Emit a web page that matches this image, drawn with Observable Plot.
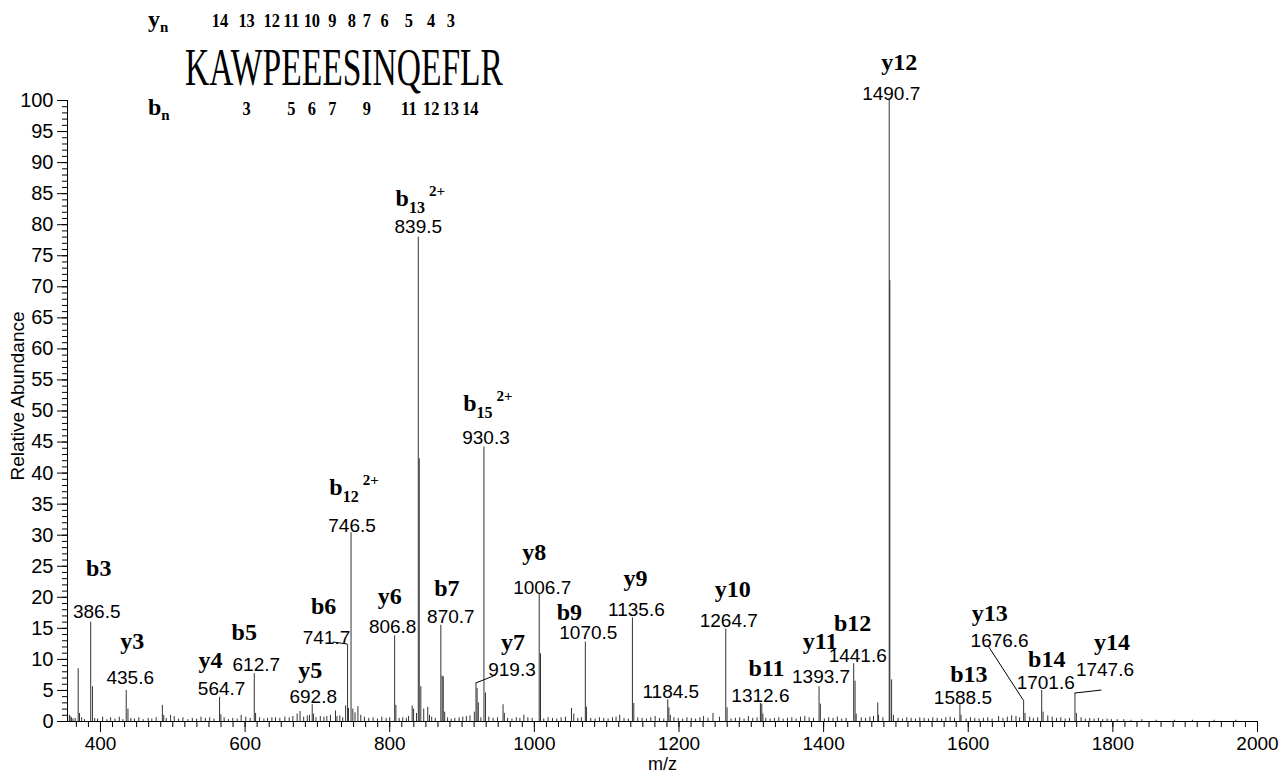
<!DOCTYPE html>
<html><head><meta charset="utf-8">
<script src="https://cdn.jsdelivr.net/npm/d3@7"></script>
<script src="https://cdn.jsdelivr.net/npm/@observablehq/plot@0.6"></script>
<style>
html,body{margin:0;padding:0;background:#fff;}
#wrap{position:relative;width:1284px;height:778px;overflow:hidden;background:#fff;}
#wrap svg{position:absolute;left:0;top:0;}
</style></head><body><div id="wrap"></div>
<script>
// ---------------- data ----------------
const peptide = "KAWPEEESINQEFLR";
const yIonNumbers = [14,13,12,11,10,9,8,7,6,5,4,3];
const bIonNumbers = [3,5,6,7,9,11,12,13,14];

const labeledMz  = [386.5,435.6,564.7,612.7,692.8,741.7,746.5,806.8,839.5,870.7,919.3,930.3,1006.7,1070.5,1135.6,1184.5,1264.7,1312.6,1393.7,1441.6,1490.7,1588.5,1676.6,1701.6,1747.6];
const labeledInt = [16.0,5.0,3.9,7.7,2.7,12.4,30.4,13.8,78.0,15.5,6.1,44.2,20.6,12.8,16.7,3.5,14.9,2.9,5.6,9.3,100,2.7,3.4,5.0,4.5];
const ionNames   = ["b3","y3","y4","b5","y5","b6","b_12^2+","y6","b_13^2+","b7","y7","b_15^2+","y8","b9","y9","","y10","b11","y11","b12","y12","b13","y13","b14","y14"];

const otherMz  = [357,360,369.2,371,388.9,438,485.6,487.5,497,566.5,594.5,614.5,637,672,676,689,694.5,713,718,725,727,739,743,749,752,756,760,808.5,831,833,837,840.8,843,847,852.6,855,872.5,874,876,917,920.8,922.5,932.4,956.7,958.5,985.5,1008.5,1051.3,1054.5,1072,1118,1137.5,1186,1188,1234,1247,1266.5,1296,1314.5,1316,1374,1395.5,1443.5,1445,1474.9,1476,1491.6,1494,1496.5,1590,1642,1678.5,1703.5,1749.5];
const otherInt = [1.0,0.6,8.5,1.3,5.6,2.0,2.6,1.0,1.0,1.1,1.0,1.3,0.6,1.2,1.6,1.0,1.2,0.8,1.0,1.7,0.8,2.5,2.1,2.0,1.4,2.4,1.0,2.6,2.5,2.0,1.3,42.3,5.6,2.0,2.3,1.0,7.3,7.2,1.5,1.5,5.3,3.0,4.6,2.7,1.3,1.0,10.9,2.1,1.2,2.3,1.0,2.9,2.2,1.0,0.8,1.3,2.2,0.8,2.8,1.2,0.8,2.8,6.5,1.2,3.0,1.0,71,6.7,1.0,1.0,0.8,1.3,1.5,1.3];

const noiseMz = [358,362,365,374,378,392,396,403,409,414,
 420,426,431,442,447,453,459,466,471,477,
 491,502,508,514,521,527,533,539,545,551,
 557,571,577,583,589,601,607,620,626,631,
 642,648,655,661,666,681,686,698,704,709,
 731,735,765,771,777,783,789,795,800,813,
 818,823,826,858,863,880,885,890,896,901,
 906,911,926,937,943,949,963,969,975,980,
 991,997,1013,1019,1025,1031,1037,1043,1060,1065,
 1078,1084,1090,1096,1102,1108,1113,1124,1130,1143,
 1149,1155,1161,1167,1173,1179,1193,1199,1205,1211,
 1217,1223,1229,1240,1256,1272,1278,1284,1290,1302,
 1308,1320,1326,1332,1338,1344,1350,1356,1362,1368,
 1380,1386,1401,1407,1413,1419,1425,1431,1452,1458,
 1464,1469,1482,1503,1509,1515,1521,1527,1533,1539,
 1545,1551,1557,1563,1569,1575,1581,1597,1603,1609,
 1615,1621,1627,1633,1648,1654,1660,1666,1671,1685,
 1690,1696,1710,1716,1722,1728,1734,1740,1756,1762,
 1768,1774,1780,1786,1792,1798,1806,1815,1825,1840,
 1860,1885,1910,1940,1970];
const noiseInt = [.8,.4,.5,.6,.3,.5,.4,.7,.3,.6,
 .4,.7,.3,.5,.4,.6,.3,.5,.4,.6,
 .5,.8,.4,.6,.3,.5,.4,.7,.5,.6,
 .4,.6,.3,.5,.4,.7,.5,.6,.4,.5,
 .6,.5,.7,.6,.8,.7,.9,.6,.8,.7,
 .9,.6,.7,.5,.6,.4,.7,.5,.6,.5,
 .6,.5,.8,.7,.5,.6,.4,.5,.6,.7,
 .8,.9,.6,.7,.5,.6,.5,.4,.6,.5,
 .6,.5,.4,.6,.5,.4,.6,.7,.5,.6,
 .5,.4,.6,.5,.4,.6,.7,.5,.4,.6,
 .5,.4,.6,.8,.5,.4,.6,.5,.4,.6,
 .5,.4,.6,.5,.7,.4,.5,.6,.4,.5,
 .6,.5,.4,.5,.6,.4,.5,.6,.4,.7,
 .6,.5,.4,.6,.5,.7,.4,.5,.6,.5,
 .7,.8,.6,.5,.4,.6,.5,.4,.6,.5,
 .4,.6,.5,.4,.6,.7,.5,.4,.6,.5,
 .4,.5,.6,.4,.5,.7,.9,.8,.6,.7,
 .5,.6,.9,.7,.5,.6,.4,.5,.6,.4,
 .5,.4,.5,.3,.4,.3,.3,.3,.2,.3,
 .2,.2,.2,.2,.2];

const xTicksMajor = [400,600,800,1000,1200,1400,1600,1800,2000];
const yTicksMajor = [0,5,10,15,20,25,30,35,40,45,50,55,60,65,70,75,80,85,90,95,100];

// ---------------- layout (pixel offsets of annotations) ----------------
// [numberDx, numberDy, ionDx, ionDy] relative to the peak top
const labelLayout = [[6,-10,8,-54],[4,-13,6,-49],[2,-8,-9,-37],[2,-9,-10,-41],[1,-8,-2,-34],
 [-21,-7,-24,-38],[1,-7,3,-45],[-2,-9,-5,-39],[0,-10,2,-39],[10,-8,6,-37],
 [36,-14,37,-41],[2,-9,4,-44],[3,-6,-5,-41],[3,-9,-16,-30],[4,-8,3,-39],
 [3,-8,0,0],[3,-8,7,-40],[0,-8,6,-35],[2,-10,1,-45],[4,-8,-1,-40],
 [2,-7,10,-38],[3,-7,9,-30],[-24,-59,-34,-87],[4,-8,5,-31],[30,-24,37,-51]];
const connectorLayout = {5:[-14,-2], 10:[20,-8], 22:[-35,-54], 24:[27,-3]};

const sans = "'Liberation Sans', Arial, Helvetica, sans-serif";
const serif = "'Liberation Serif', 'Times New Roman', serif";
const xDomain = [354.4, 2000];

const peaks = [
  ...noiseMz.map((m,i)=>({mz:m, int:noiseInt[i]})),
  ...otherMz.map((m,i)=>({mz:m, int:otherInt[i]})),
  ...labeledMz.map((m,i)=>({mz:m, int:labeledInt[i]}))
];
const minorX = d3.range(0,100).map(i => 400 + (i-3)*200/12).filter(v => v >= xDomain[0] && v <= 2000.01);
const minorY = d3.range(0,101,1);

const labelMarks = [];
labeledMz.forEach((m,i) => {
  const [ndx, ndy, idx, idy] = labelLayout[i];
  labelMarks.push(Plot.text([i], {x: j=>labeledMz[j], y: j=>labeledInt[j], text: j=>labeledMz[j].toFixed(1),
    dx: ndx, dy: ndy, fontSize: 19, fontFamily: sans, fill: "#000", lineAnchor: "middle"}));
  if (ionNames[i]) labelMarks.push(Plot.text([i], {x: j=>labeledMz[j], y: j=>labeledInt[j], text: j=>ionNames[j],
    dx: idx, dy: idy, fontSize: 24, fontFamily: serif, fontWeight: "bold", fill: "#000", lineAnchor: "middle"}));
});

const chart = Plot.plot({
  width: 1284, height: 778,
  marginTop: 100, marginBottom: 57, marginLeft: 67, marginRight: 27,
  x: {domain: xDomain},
  y: {domain: [0, 100]},
  style: {fontFamily: sans, fontSize: "20px", color: "#000", background: "#fff", overflow: "visible"},
  marks: [
    Plot.ruleX(peaks, {x: "mz", y1: 0, y2: "int", stroke: "#333", strokeWidth: 1}),
    Plot.ruleY([0], {stroke: "#000", strokeWidth: 1}),
    Plot.ruleX([xDomain[0]], {y1: 0, y2: 100, stroke: "#000", strokeWidth: 1}),
    Plot.axisX(xTicksMajor, {tickSize: 11, tickPadding: 4, tickFormat: d => String(d), label: null, fontSize: 19}),
    Plot.axisX(minorX, {tickSize: 6, tickFormat: () => "", label: null}),
    Plot.axisY(yTicksMajor, {tickSize: 10, tickPadding: 4, label: null, fontSize: 20}),
    Plot.axisY(minorY, {tickSize: 5, tickFormat: () => "", label: null}),
    Plot.text(["Relative Abundance"], {frameAnchor: "left", textAnchor: "middle", rotate: -90, dx: -50, dy: -15, fontSize: 19, fontFamily: sans}),
    Plot.text(["m/z"], {frameAnchor: "bottom", dy: 48, fontSize: 18, fontFamily: sans}),
    ...labelMarks
  ]
});
document.getElementById("wrap").appendChild(chart);

// sub/superscripts for doubly charged ions
d3.select(chart).selectAll("text").each(function() {
  const t = this.textContent;
  const m = t.match(/^([a-z])_(\d+)\^(.+)$/);
  if (!m) return;
  const sel = d3.select(this);
  sel.text(null);
  sel.append("tspan").text(m[1]);
  sel.append("tspan").attr("font-size", 16).attr("dy", 7).text(m[2]);
  sel.append("tspan").attr("font-size", 15).attr("dx", 4).attr("dy", -17).text(m[3]);
});

// connector lines from peak tops to displaced labels
const xs = chart.scale("x"), ys = chart.scale("y");
for (const [k, [cdx, cdy]] of Object.entries(connectorLayout)) {
  const px = xs.apply(labeledMz[k]), py = ys.apply(labeledInt[k]);
  d3.select(chart).append("line").attr("x1", px).attr("y1", py).attr("x2", px + cdx).attr("y2", py + cdy)
    .attr("stroke", "#000").attr("stroke-width", 1);
}

// peptide header (horizontally condensed serif lettering)
const hdr = d3.select("#wrap").append("svg").attr("width", 1284).attr("height", 130).style("pointer-events", "none");
const seq = hdr.append("text").attr("x", 185).attr("y", 85).attr("font-family", serif).attr("font-size", 53)
  .attr("textLength", 318).attr("lengthAdjust", "spacingAndGlyphs").attr("fill", "#000").text(peptide);
function rowLabel(letter, y) {
  const t = hdr.append("text").attr("x", 148).attr("y", y).attr("font-family", serif).attr("font-weight", "bold").attr("font-size", 24);
  t.append("tspan").text(letter);
  t.append("tspan").attr("font-size", 15).attr("dy", 5).text("n");
}
rowLabel("y", 27);
rowLabel("b", 115);
const seqNode = seq.node();
function residueCenter(idx) { const r = seqNode.getExtentOfChar(idx); return r.x + r.width / 2; }
function headerNumber(n, x, y) {
  hdr.append("text").attr("x", x).attr("y", y).attr("text-anchor", "middle")
    .attr("font-family", serif).attr("font-weight", "bold").attr("font-size", 19)
    .attr("textLength", String(n).length * 8.2).attr("lengthAdjust", "spacingAndGlyphs").text(n);
}
yIonNumbers.forEach(n => headerNumber(n, residueCenter(peptide.length - n), 27));
bIonNumbers.forEach(n => headerNumber(n, residueCenter(n - 1), 115));
</script></body></html>
